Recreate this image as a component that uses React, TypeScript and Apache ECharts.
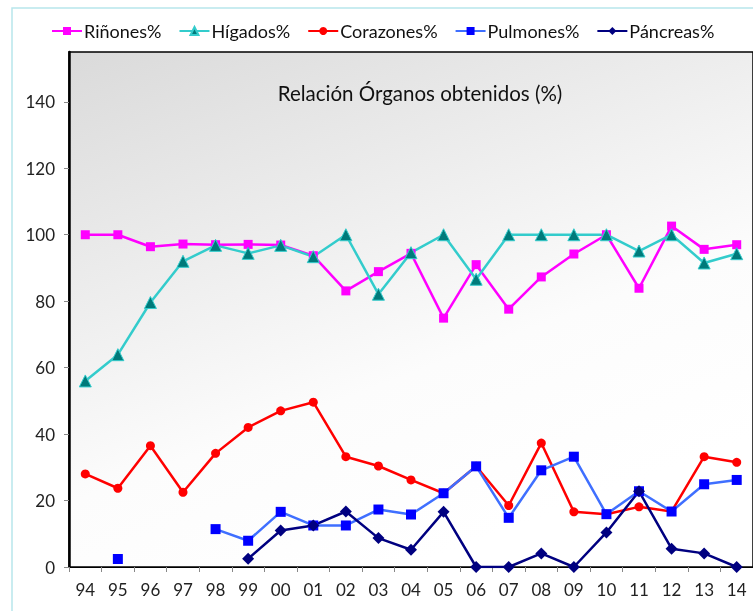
import React, { useEffect, useRef } from "react";
import * as echarts from "echarts";

const categories = ["94","95","96","97","98","99","00","01","02","03","04","05","06","07","08","09","10","11","12","13","14"];
const rinones = [100, 100, 96.4, 97.2, 97.0, 97.1, 96.9, 93.7, 83.1, 88.9, 94.4, 74.9, 91.0, 77.6, 87.3, 94.2, 100, 83.9, 102.6, 95.6, 97.0];
const higados = [56.0, 63.9, 79.6, 92.0, 96.8, 94.4, 96.8, 93.4, 100, 82.1, 94.6, 100, 86.6, 100, 100, 100, 100, 95.1, 100, 91.5, 94.3];
const corazones = [28.0, 23.7, 36.5, 22.5, 34.2, 42.0, 47.0, 49.6, 33.2, 30.4, 26.2, 22.2, 30.3, 18.5, 37.3, 16.6, 15.9, 18.1, 16.7, 33.2, 31.5];
const pulmones = [null, 2.4, null, null, 11.4, 7.9, 16.6, 12.5, 12.5, 17.3, 15.8, 22.2, 30.3, 14.8, 29.1, 33.2, 15.9, 22.8, 16.7, 24.9, 26.2];
const pancreas = [null, null, null, null, null, 2.5, 11.0, 12.5, 16.7, 8.7, 5.2, 16.6, 0, 0, 4.1, 0, 10.4, 22.8, 5.5, 4.1, 0];
const yTicks = { min: 0, max: 155, interval: 20 };

const FONT = "Lato, 'Open Sans', sans-serif";

export default function App() {
  const ref = useRef<HTMLDivElement>(null);
  useEffect(() => {
    if (!ref.current) return;
    const chart = echarts.init(ref.current, undefined, { renderer: "svg" });
    const mk = (name: string, data: (number | null)[], lineColor: string, symbol: string, size: number, fill: string, border?: string) => ({
      name,
      type: "line",
      data,
      connectNulls: false,
      showSymbol: true,
      showAllSymbol: true,
      symbol,
      symbolSize: size,
      lineStyle: { color: lineColor, width: 2.5 },
      itemStyle: { color: fill, borderColor: border || fill, borderWidth: border ? 1 : 0 },
      emphasis: { disabled: true },
    });
    chart.setOption({
      animation: false,
      textStyle: { fontFamily: FONT },
      legend: {
        top: 17,
        left: 46,
        itemWidth: 30,
        itemHeight: 10,
        itemGap: 17,
        textStyle: { fontSize: 18, color: "#111", fontFamily: FONT, padding: [0, 0, 0, -3] },
        data: ["Riñones%", "Hígados%", "Corazones%", "Pulmones%", "Páncreas%"],
      },
      graphic: [
        {
          type: "rect",
          shape: { x: 12, y: 8, width: 800, height: 700 },
          style: { fill: "none", stroke: "#b8e6ec", lineWidth: 1.5 },
          silent: true,
        },
        {
          type: "text",
          x: 420,
          y: 93,
          style: {
            text: "Relación Órganos obtenidos (%)",
            fontSize: 20.5,
            fontFamily: FONT,
            fill: "#111",
            align: "center",
            verticalAlign: "middle",
          },
          z: 10,
        },
      ],
      grid: {
        left: 69,
        right: -1,
        top: 52,
        bottom: 44,
        show: true,
        borderColor: "#000",
        borderWidth: 1.5,
        backgroundColor: {
          type: "linear",
          x: 0, y: 0, x2: 0.5, y2: 1,
          colorStops: [
            { offset: 0, color: "#dadada" },
            { offset: 0.7, color: "#fcfcfc" },
            { offset: 1, color: "#ffffff" },
          ],
        },
      },
      xAxis: {
        type: "category",
        data: categories,
        boundaryGap: true,
        axisLine: { lineStyle: { color: "#000", width: 1 } },
        axisTick: { show: true, length: 5, lineStyle: { color: "#888" } },
        axisLabel: { fontSize: 17, color: "#222", margin: 14, fontFamily: FONT },
        splitLine: { show: false },
      },
      yAxis: {
        type: "value",
        min: yTicks.min,
        max: yTicks.max,
        interval: yTicks.interval,
        axisLine: { show: true, lineStyle: { color: "#000", width: 2.5 } },
        axisTick: { show: true, length: 5, lineStyle: { color: "#888" } },
        axisLabel: { fontSize: 17, color: "#222", margin: 14, showMaxLabel: false, fontFamily: FONT },
        splitLine: { show: false },
      },
      series: [
        mk("Riñones%", rinones, "#ff00ff", "rect", 9, "#ff00ff"),
        mk("Hígados%", higados, "#33cccc", "triangle", 12, "#007a7a", "#33cccc"),
        mk("Corazones%", corazones, "#ff0000", "circle", 9, "#ff0000"),
        mk("Pulmones%", pulmones, "#3f6fff", "rect", 10, "#0000ff"),
        mk("Páncreas%", pancreas, "#000080", "diamond", 12, "#000080"),
      ],
    });
    return () => chart.dispose();
  }, []);
  return <div ref={ref} style={{ position: "fixed", left: 0, top: 0, width: 753, height: 611 }} />;
}
